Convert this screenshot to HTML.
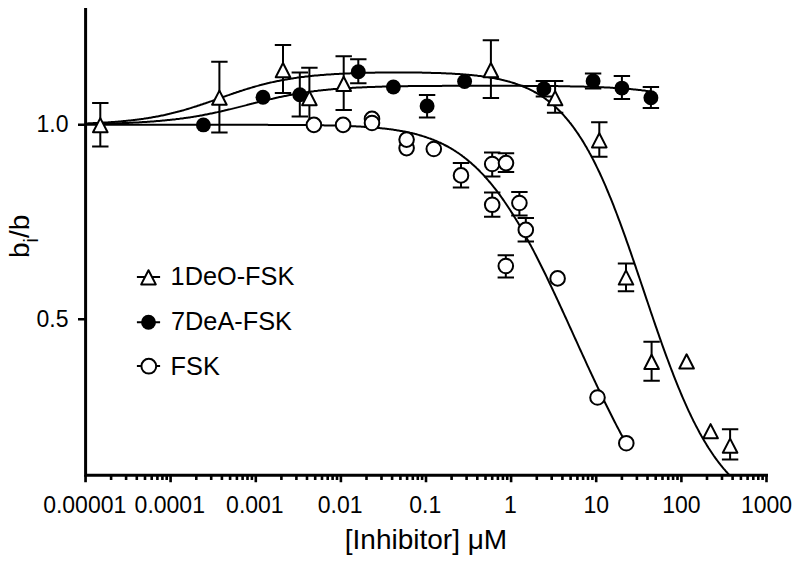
<!DOCTYPE html>
<html><head><meta charset="utf-8"><style>
html,body{margin:0;padding:0;background:#fff;}
svg{display:block;}
text{font-family:"Liberation Sans",sans-serif;fill:#000;}
.m{fill:#fff;stroke:#000;stroke-width:2;}
.f{fill:#000;stroke:none;}
</style></head><body>
<svg width="800" height="563" viewBox="0 0 800 563">
<g fill="none" stroke="#000" stroke-width="3">
<path d="M85.6,7.9 V475.2 H768"/>
<path d="M85.6,475 V482.2 M85.5,475 V482.2 M111.1,475 V480 M126.1,475 V480 M136.8,475 V480 M145.0,475 V480 M151.7,475 V480 M157.4,475 V480 M162.4,475 V480 M166.7,475 V480 M170.6,475 V482.2 M196.3,475 V480 M211.2,475 V480 M221.9,475 V480 M230.1,475 V480 M236.9,475 V480 M242.6,475 V480 M247.5,475 V480 M251.9,475 V480 M255.8,475 V482.2 M281.4,475 V480 M296.4,475 V480 M307.0,475 V480 M315.2,475 V480 M322.0,475 V480 M327.7,475 V480 M332.6,475 V480 M337.0,475 V480 M340.9,475 V482.2 M366.5,475 V480 M381.5,475 V480 M392.1,475 V480 M400.4,475 V480 M407.1,475 V480 M412.8,475 V480 M417.8,475 V480 M422.1,475 V480 M426.0,475 V482.2 M451.6,475 V480 M466.6,475 V480 M477.3,475 V480 M485.5,475 V480 M492.2,475 V480 M497.9,475 V480 M502.9,475 V480 M507.2,475 V480 M511.1,475 V482.2 M536.8,475 V480 M551.7,475 V480 M562.4,475 V480 M570.6,475 V480 M577.4,475 V480 M583.1,475 V480 M588.0,475 V480 M592.4,475 V480 M596.2,475 V482.2 M621.9,475 V480 M636.9,475 V480 M647.5,475 V480 M655.7,475 V480 M662.5,475 V480 M668.2,475 V480 M673.1,475 V480 M677.5,475 V480 M681.4,475 V482.2 M707.0,475 V480 M722.0,475 V480 M732.6,475 V480 M740.9,475 V480 M747.6,475 V480 M753.3,475 V480 M758.3,475 V480 M762.6,475 V480 M766.5,475 V482.2 " stroke-width="2.6"/>
<path d="M78,124.75 H85 M78,319.2 H85" stroke-width="2.6"/>
</g>
<g font-size="23">
<text x="68.5" y="131.85" text-anchor="end">1.0</text>
<text x="68.5" y="327" text-anchor="end">0.5</text>
<text x="84.7" y="512.5" text-anchor="middle">0.00001</text><text x="169.8" y="512.5" text-anchor="middle">0.0001</text><text x="254.9" y="512.5" text-anchor="middle">0.001</text><text x="340.1" y="512.5" text-anchor="middle">0.01</text><text x="425.2" y="512.5" text-anchor="middle">0.1</text><text x="510.3" y="512.5" text-anchor="middle">1</text><text x="596.2" y="512.5" text-anchor="middle">10</text><text x="681.4" y="512.5" text-anchor="middle">100</text><text x="766.5" y="512.5" text-anchor="middle">1000</text>
</g>
<text x="426" y="548.5" font-size="28" text-anchor="middle">[Inhibitor] μM</text>
<text transform="translate(29,258) rotate(-90)" font-size="28">b<tspan font-size="19.6" dy="8.8">i</tspan><tspan dy="-8.8">/b</tspan></text>
<g fill="none" stroke="#000" stroke-width="2">
<path d="M85.6,124.8 L86.6,124.8 L87.6,124.8 L88.6,124.8 L89.6,124.8 L90.6,124.8 L91.6,124.8 L92.6,124.8 L93.6,124.8 L94.6,124.8 L95.6,124.8 L96.6,124.8 L97.6,124.8 L98.6,124.8 L99.6,124.8 L100.6,124.8 L101.6,124.8 L102.6,124.8 L103.6,124.8 L104.6,124.8 L105.6,124.8 L106.6,124.8 L107.6,124.8 L108.6,124.8 L109.6,124.8 L110.6,124.8 L111.6,124.8 L112.6,124.8 L113.6,124.8 L114.6,124.8 L115.6,124.8 L116.6,124.8 L117.6,124.8 L118.6,124.8 L119.6,124.8 L120.6,124.8 L121.6,124.8 L122.6,124.8 L123.6,124.8 L124.6,124.8 L125.6,124.8 L126.6,124.8 L127.6,124.8 L128.6,124.8 L129.6,124.8 L130.6,124.8 L131.6,124.8 L132.6,124.8 L133.6,124.8 L134.6,124.8 L135.6,124.8 L136.6,124.8 L137.6,124.8 L138.6,124.8 L139.6,124.8 L140.6,124.8 L141.6,124.8 L142.6,124.8 L143.6,124.8 L144.6,124.8 L145.6,124.8 L146.6,124.8 L147.6,124.8 L148.6,124.8 L149.6,124.8 L150.6,124.8 L151.6,124.8 L152.6,124.8 L153.6,124.8 L154.6,124.8 L155.6,124.8 L156.6,124.8 L157.6,124.8 L158.6,124.8 L159.6,124.8 L160.6,124.8 L161.6,124.8 L162.6,124.8 L163.6,124.8 L164.6,124.8 L165.6,124.8 L166.6,124.8 L167.6,124.8 L168.6,124.8 L169.6,124.8 L170.6,124.8 L171.6,124.8 L172.6,124.8 L173.6,124.8 L174.6,124.8 L175.6,124.8 L176.6,124.8 L177.6,124.8 L178.6,124.8 L179.6,124.8 L180.6,124.8 L181.6,124.8 L182.6,124.8 L183.6,124.8 L184.6,124.8 L185.6,124.8 L186.6,124.8 L187.6,124.8 L188.6,124.8 L189.6,124.8 L190.6,124.8 L191.6,124.8 L192.6,124.8 L193.6,124.8 L194.6,124.8 L195.6,124.8 L196.6,124.8 L197.6,124.8 L198.6,124.8 L199.6,124.8 L200.6,124.8 L201.6,124.8 L202.6,124.8 L203.6,124.8 L204.6,124.8 L205.6,124.8 L206.6,124.8 L207.6,124.8 L208.6,124.8 L209.6,124.8 L210.6,124.8 L211.6,124.8 L212.6,124.8 L213.6,124.8 L214.6,124.8 L215.6,124.8 L216.6,124.8 L217.6,124.8 L218.6,124.8 L219.6,124.8 L220.6,124.8 L221.6,124.8 L222.6,124.8 L223.6,124.8 L224.6,124.8 L225.6,124.8 L226.6,124.8 L227.6,124.8 L228.6,124.8 L229.6,124.8 L230.6,124.8 L231.6,124.8 L232.6,124.8 L233.6,124.8 L234.6,124.8 L235.6,124.8 L236.6,124.8 L237.6,124.8 L238.6,124.8 L239.6,124.8 L240.6,124.8 L241.6,124.8 L242.6,124.8 L243.6,124.8 L244.6,124.8 L245.6,124.8 L246.6,124.8 L247.6,124.8 L248.6,124.8 L249.6,124.8 L250.6,124.8 L251.6,124.8 L252.6,124.8 L253.6,124.8 L254.6,124.8 L255.6,124.8 L256.6,124.8 L257.6,124.8 L258.6,124.8 L259.6,124.8 L260.6,124.8 L261.6,124.8 L262.6,124.8 L263.6,124.8 L264.6,124.8 L265.6,124.8 L266.6,124.8 L267.6,124.8 L268.6,124.9 L269.6,124.9 L270.6,124.9 L271.6,124.9 L272.6,124.9 L273.6,124.9 L274.6,124.9 L275.6,124.9 L276.6,124.9 L277.6,124.9 L278.6,124.9 L279.6,124.9 L280.6,124.9 L281.6,124.9 L282.6,124.9 L283.6,124.9 L284.6,124.9 L285.6,124.9 L286.6,124.9 L287.6,124.9 L288.6,124.9 L289.6,124.9 L290.6,125.0 L291.6,125.0 L292.6,125.0 L293.6,125.0 L294.6,125.0 L295.6,125.0 L296.6,125.0 L297.6,125.0 L298.6,125.0 L299.6,125.0 L300.6,125.0 L301.6,125.0 L302.6,125.1 L303.6,125.1 L304.6,125.1 L305.6,125.1 L306.6,125.1 L307.6,125.1 L308.6,125.1 L309.6,125.1 L310.6,125.1 L311.6,125.2 L312.6,125.2 L313.6,125.2 L314.6,125.2 L315.6,125.2 L316.6,125.2 L317.6,125.2 L318.6,125.3 L319.6,125.3 L320.6,125.3 L321.6,125.3 L322.6,125.3 L323.6,125.3 L324.6,125.4 L325.6,125.4 L326.6,125.4 L327.6,125.4 L328.6,125.4 L329.6,125.5 L330.6,125.5 L331.6,125.5 L332.6,125.5 L333.6,125.6 L334.6,125.6 L335.6,125.6 L336.6,125.6 L337.6,125.7 L338.6,125.7 L339.6,125.7 L340.6,125.8 L341.6,125.8 L342.6,125.8 L343.6,125.9 L344.6,125.9 L345.6,125.9 L346.6,126.0 L347.6,126.0 L348.6,126.0 L349.6,126.1 L350.6,126.1 L351.6,126.2 L352.6,126.2 L353.6,126.3 L354.6,126.3 L355.6,126.3 L356.6,126.4 L357.6,126.5 L358.6,126.5 L359.6,126.6 L360.6,126.6 L361.6,126.7 L362.6,126.7 L363.6,126.8 L364.6,126.9 L365.6,126.9 L366.6,127.0 L367.6,127.1 L368.6,127.1 L369.6,127.2 L370.6,127.3 L371.6,127.4 L372.6,127.4 L373.6,127.5 L374.6,127.6 L375.6,127.7 L376.6,127.8 L377.6,127.9 L378.6,128.0 L379.6,128.1 L380.6,128.2 L381.6,128.3 L382.6,128.4 L383.6,128.5 L384.6,128.6 L385.6,128.7 L386.6,128.8 L387.6,128.9 L388.6,129.1 L389.6,129.2 L390.6,129.3 L391.6,129.5 L392.6,129.6 L393.6,129.7 L394.6,129.9 L395.6,130.0 L396.6,130.2 L397.6,130.4 L398.6,130.5 L399.6,130.7 L400.6,130.9 L401.6,131.0 L402.6,131.2 L403.6,131.4 L404.6,131.6 L405.6,131.8 L406.6,132.0 L407.6,132.2 L408.6,132.4 L409.6,132.6 L410.6,132.9 L411.6,133.1 L412.6,133.3 L413.6,133.6 L414.6,133.8 L415.6,134.1 L416.6,134.3 L417.6,134.6 L418.6,134.9 L419.6,135.2 L420.6,135.5 L421.6,135.8 L422.6,136.1 L423.6,136.4 L424.6,136.7 L425.6,137.0 L426.6,137.4 L427.6,137.7 L428.6,138.1 L429.6,138.4 L430.6,138.8 L431.6,139.2 L432.6,139.5 L433.6,139.9 L434.6,140.3 L435.6,140.8 L436.6,141.2 L437.6,141.6 L438.6,142.1 L439.6,142.5 L440.6,143.0 L441.6,143.5 L442.6,143.9 L443.6,144.4 L444.6,145.0 L445.6,145.5 L446.6,146.0 L447.6,146.5 L448.6,147.1 L449.6,147.7 L450.6,148.2 L451.6,148.8 L452.6,149.4 L453.6,150.0 L454.6,150.7 L455.6,151.3 L456.6,152.0 L457.6,152.6 L458.6,153.3 L459.6,154.0 L460.6,154.7 L461.6,155.4 L462.6,156.2 L463.6,156.9 L464.6,157.7 L465.6,158.5 L466.6,159.3 L467.6,160.1 L468.6,160.9 L469.6,161.8 L470.6,162.6 L471.6,163.5 L472.6,164.4 L473.6,165.3 L474.6,166.2 L475.6,167.1 L476.6,168.1 L477.6,169.1 L478.6,170.0 L479.6,171.0 L480.6,172.1 L481.6,173.1 L482.6,174.1 L483.6,175.2 L484.6,176.3 L485.6,177.4 L486.6,178.5 L487.6,179.7 L488.6,180.8 L489.6,182.0 L490.6,183.2 L491.6,184.4 L492.6,185.6 L493.6,186.9 L494.6,188.1 L495.6,189.4 L496.6,190.7 L497.6,192.0 L498.6,193.4 L499.6,194.7 L500.6,196.1 L501.6,197.5 L502.6,198.9 L503.6,200.3 L504.6,201.8 L505.6,203.2 L506.6,204.7 L507.6,206.2 L508.6,207.7 L509.6,209.2 L510.6,210.8 L511.6,212.4 L512.6,213.9 L513.6,215.5 L514.6,217.2 L515.6,218.8 L516.6,220.4 L517.6,222.1 L518.6,223.8 L519.6,225.5 L520.6,227.2 L521.6,228.9 L522.6,230.7 L523.6,232.5 L524.6,234.2 L525.6,236.0 L526.6,237.9 L527.6,239.7 L528.6,241.5 L529.6,243.4 L530.6,245.2 L531.6,247.1 L532.6,249.0 L533.6,250.9 L534.6,252.9 L535.6,254.8 L536.6,256.8 L537.6,258.7 L538.6,260.7 L539.6,262.7 L540.6,264.7 L541.6,266.7 L542.6,268.7 L543.6,270.8 L544.6,272.8 L545.6,274.8 L546.6,276.9 L547.6,279.0 L548.6,281.1 L549.6,283.2 L550.6,285.3 L551.6,287.4 L552.6,289.5 L553.6,291.6 L554.6,293.7 L555.6,295.9 L556.6,298.0 L557.6,300.2 L558.6,302.3 L559.6,304.5 L560.6,306.7 L561.6,308.8 L562.6,311.0 L563.6,313.2 L564.6,315.4 L565.6,317.5 L566.6,319.7 L567.6,321.9 L568.6,324.1 L569.6,326.3 L570.6,328.5 L571.6,330.7 L572.6,332.9 L573.6,335.1 L574.6,337.3 L575.6,339.5 L576.6,341.7 L577.6,343.9 L578.6,346.1 L579.6,348.3 L580.6,350.5 L581.6,352.7 L582.6,354.9 L583.6,357.0 L584.6,359.2 L585.6,361.4 L586.6,363.6 L587.6,365.8 L588.6,367.9 L589.6,370.1 L590.6,372.2 L591.6,374.4 L592.6,376.5 L593.6,378.7 L594.6,380.8 L595.6,382.9 L596.6,385.0 L597.6,387.1 L598.6,389.2 L599.6,391.3 L600.6,393.4 L601.6,395.5 L602.6,397.6 L603.6,399.6 L604.6,401.7 L605.6,403.7 L606.6,405.8 L607.6,407.8 L608.6,409.8 L609.6,411.8 L610.6,413.8 L611.6,415.8 L612.6,417.8 L613.6,419.7 L614.6,421.7 L615.6,423.6 L616.6,425.6 L617.6,427.5 L618.6,429.4 L619.6,431.3 L620.6,433.2 L621.6,435.1 L622.6,436.9 L623.6,438.8 L624.6,440.6 L625.6,442.4 L626.3,443.7"/>
<path d="M85.6,124.1 L86.6,124.1 L87.6,124.0 L88.6,124.0 L89.6,124.0 L90.6,124.0 L91.6,124.0 L92.6,124.0 L93.6,123.9 L94.6,123.9 L95.6,123.9 L96.6,123.9 L97.6,123.9 L98.6,123.8 L99.6,123.8 L100.6,123.8 L101.6,123.8 L102.6,123.7 L103.6,123.7 L104.6,123.7 L105.6,123.7 L106.6,123.6 L107.6,123.6 L108.6,123.6 L109.6,123.6 L110.6,123.5 L111.6,123.5 L112.6,123.5 L113.6,123.4 L114.6,123.4 L115.6,123.4 L116.6,123.3 L117.6,123.3 L118.6,123.3 L119.6,123.2 L120.6,123.2 L121.6,123.2 L122.6,123.1 L123.6,123.1 L124.6,123.0 L125.6,123.0 L126.6,123.0 L127.6,122.9 L128.6,122.9 L129.6,122.8 L130.6,122.8 L131.6,122.7 L132.6,122.7 L133.6,122.6 L134.6,122.6 L135.6,122.5 L136.6,122.5 L137.6,122.4 L138.6,122.4 L139.6,122.3 L140.6,122.3 L141.6,122.2 L142.6,122.1 L143.6,122.1 L144.6,122.0 L145.6,122.0 L146.6,121.9 L147.6,121.8 L148.6,121.8 L149.6,121.7 L150.6,121.6 L151.6,121.5 L152.6,121.5 L153.6,121.4 L154.6,121.3 L155.6,121.2 L156.6,121.1 L157.6,121.1 L158.6,121.0 L159.6,120.9 L160.6,120.8 L161.6,120.7 L162.6,120.6 L163.6,120.5 L164.6,120.4 L165.6,120.3 L166.6,120.2 L167.6,120.1 L168.6,120.0 L169.6,119.9 L170.6,119.8 L171.6,119.7 L172.6,119.6 L173.6,119.5 L174.6,119.4 L175.6,119.3 L176.6,119.1 L177.6,119.0 L178.6,118.9 L179.6,118.8 L180.6,118.6 L181.6,118.5 L182.6,118.4 L183.6,118.2 L184.6,118.1 L185.6,118.0 L186.6,117.8 L187.6,117.7 L188.6,117.5 L189.6,117.4 L190.6,117.2 L191.6,117.1 L192.6,116.9 L193.6,116.7 L194.6,116.6 L195.6,116.4 L196.6,116.2 L197.6,116.1 L198.6,115.9 L199.6,115.7 L200.6,115.5 L201.6,115.4 L202.6,115.2 L203.6,115.0 L204.6,114.8 L205.6,114.6 L206.6,114.4 L207.6,114.2 L208.6,114.0 L209.6,113.8 L210.6,113.6 L211.6,113.4 L212.6,113.2 L213.6,113.0 L214.6,112.8 L215.6,112.6 L216.6,112.4 L217.6,112.1 L218.6,111.9 L219.6,111.7 L220.6,111.5 L221.6,111.2 L222.6,111.0 L223.6,110.8 L224.6,110.5 L225.6,110.3 L226.6,110.1 L227.6,109.8 L228.6,109.6 L229.6,109.4 L230.6,109.1 L231.6,108.9 L232.6,108.6 L233.6,108.4 L234.6,108.1 L235.6,107.9 L236.6,107.6 L237.6,107.4 L238.6,107.1 L239.6,106.9 L240.6,106.6 L241.6,106.4 L242.6,106.1 L243.6,105.9 L244.6,105.6 L245.6,105.4 L246.6,105.1 L247.6,104.8 L248.6,104.6 L249.6,104.3 L250.6,104.1 L251.6,103.8 L252.6,103.6 L253.6,103.3 L254.6,103.1 L255.6,102.8 L256.6,102.6 L257.6,102.3 L258.6,102.0 L259.6,101.8 L260.6,101.6 L261.6,101.3 L262.6,101.1 L263.6,100.8 L264.6,100.6 L265.6,100.3 L266.6,100.1 L267.6,99.8 L268.6,99.6 L269.6,99.4 L270.6,99.1 L271.6,98.9 L272.6,98.7 L273.6,98.4 L274.6,98.2 L275.6,98.0 L276.6,97.8 L277.6,97.6 L278.6,97.3 L279.6,97.1 L280.6,96.9 L281.6,96.7 L282.6,96.5 L283.6,96.3 L284.6,96.1 L285.6,95.9 L286.6,95.7 L287.6,95.5 L288.6,95.3 L289.6,95.1 L290.6,94.9 L291.6,94.7 L292.6,94.5 L293.6,94.3 L294.6,94.2 L295.6,94.0 L296.6,93.8 L297.6,93.6 L298.6,93.5 L299.6,93.3 L300.6,93.2 L301.6,93.0 L302.6,92.8 L303.6,92.7 L304.6,92.5 L305.6,92.4 L306.6,92.2 L307.6,92.1 L308.6,91.9 L309.6,91.8 L310.6,91.7 L311.6,91.5 L312.6,91.4 L313.6,91.3 L314.6,91.1 L315.6,91.0 L316.6,90.9 L317.6,90.8 L318.6,90.6 L319.6,90.5 L320.6,90.4 L321.6,90.3 L322.6,90.2 L323.6,90.1 L324.6,90.0 L325.6,89.9 L326.6,89.8 L327.6,89.7 L328.6,89.6 L329.6,89.5 L330.6,89.4 L331.6,89.3 L332.6,89.2 L333.6,89.1 L334.6,89.1 L335.6,89.0 L336.6,88.9 L337.6,88.8 L338.6,88.7 L339.6,88.7 L340.6,88.6 L341.6,88.5 L342.6,88.4 L343.6,88.4 L344.6,88.3 L345.6,88.2 L346.6,88.2 L347.6,88.1 L348.6,88.0 L349.6,88.0 L350.6,87.9 L351.6,87.9 L352.6,87.8 L353.6,87.8 L354.6,87.7 L355.6,87.7 L356.6,87.6 L357.6,87.6 L358.6,87.5 L359.6,87.5 L360.6,87.4 L361.6,87.4 L362.6,87.3 L363.6,87.3 L364.6,87.2 L365.6,87.2 L366.6,87.2 L367.6,87.1 L368.6,87.1 L369.6,87.0 L370.6,87.0 L371.6,87.0 L372.6,86.9 L373.6,86.9 L374.6,86.9 L375.6,86.8 L376.6,86.8 L377.6,86.8 L378.6,86.7 L379.6,86.7 L380.6,86.7 L381.6,86.7 L382.6,86.6 L383.6,86.6 L384.6,86.6 L385.6,86.6 L386.6,86.5 L387.6,86.5 L388.6,86.5 L389.6,86.5 L390.6,86.4 L391.6,86.4 L392.6,86.4 L393.6,86.4 L394.6,86.4 L395.6,86.3 L396.6,86.3 L397.6,86.3 L398.6,86.3 L399.6,86.3 L400.6,86.3 L401.6,86.2 L402.6,86.2 L403.6,86.2 L404.6,86.2 L405.6,86.2 L406.6,86.2 L407.6,86.2 L408.6,86.1 L409.6,86.1 L410.6,86.1 L411.6,86.1 L412.6,86.1 L413.6,86.1 L414.6,86.1 L415.6,86.1 L416.6,86.0 L417.6,86.0 L418.6,86.0 L419.6,86.0 L420.6,86.0 L421.6,86.0 L422.6,86.0 L423.6,86.0 L424.6,86.0 L425.6,86.0 L426.6,86.0 L427.6,85.9 L428.6,85.9 L429.6,85.9 L430.6,85.9 L431.6,85.9 L432.6,85.9 L433.6,85.9 L434.6,85.9 L435.6,85.9 L436.6,85.9 L437.6,85.9 L438.6,85.9 L439.6,85.9 L440.6,85.9 L441.6,85.9 L442.6,85.8 L443.6,85.8 L444.6,85.8 L445.6,85.8 L446.6,85.8 L447.6,85.8 L448.6,85.8 L449.6,85.8 L450.6,85.8 L451.6,85.8 L452.6,85.8 L453.6,85.8 L454.6,85.8 L455.6,85.8 L456.6,85.8 L457.6,85.8 L458.6,85.8 L459.6,85.8 L460.6,85.8 L461.6,85.8 L462.6,85.8 L463.6,85.8 L464.6,85.8 L465.6,85.8 L466.6,85.8 L467.6,85.8 L468.6,85.8 L469.6,85.8 L470.6,85.8 L471.6,85.8 L472.6,85.8 L473.6,85.8 L474.6,85.8 L475.6,85.8 L476.6,85.8 L477.6,85.8 L478.6,85.8 L479.6,85.8 L480.6,85.8 L481.6,85.8 L482.6,85.8 L483.6,85.8 L484.6,85.8 L485.6,85.8 L486.6,85.8 L487.6,85.8 L488.6,85.8 L489.6,85.8 L490.6,85.8 L491.6,85.8 L492.6,85.8 L493.6,85.8 L494.6,85.8 L495.6,85.8 L496.6,85.8 L497.6,85.8 L498.6,85.8 L499.6,85.8 L500.6,85.8 L501.6,85.8 L502.6,85.8 L503.6,85.8 L504.6,85.8 L505.6,85.8 L506.6,85.8 L507.6,85.8 L508.6,85.8 L509.6,85.8 L510.6,85.8 L511.6,85.8 L512.6,85.8 L513.6,85.8 L514.6,85.8 L515.6,85.8 L516.6,85.8 L517.6,85.8 L518.6,85.8 L519.6,85.8 L520.6,85.8 L521.6,85.8 L522.6,85.8 L523.6,85.9 L524.6,85.9 L525.6,85.9 L526.6,85.9 L527.6,85.9 L528.6,85.9 L529.6,85.9 L530.6,85.9 L531.6,85.9 L532.6,85.9 L533.6,85.9 L534.6,85.9 L535.6,85.9 L536.6,85.9 L537.6,85.9 L538.6,85.9 L539.6,86.0 L540.6,86.0 L541.6,86.0 L542.6,86.0 L543.6,86.0 L544.6,86.0 L545.6,86.0 L546.6,86.0 L547.6,86.0 L548.6,86.0 L549.6,86.0 L550.6,86.1 L551.6,86.1 L552.6,86.1 L553.6,86.1 L554.6,86.1 L555.6,86.1 L556.6,86.1 L557.6,86.1 L558.6,86.2 L559.6,86.2 L560.6,86.2 L561.6,86.2 L562.6,86.2 L563.6,86.2 L564.6,86.2 L565.6,86.3 L566.6,86.3 L567.6,86.3 L568.6,86.3 L569.6,86.3 L570.6,86.4 L571.6,86.4 L572.6,86.4 L573.6,86.4 L574.6,86.4 L575.6,86.5 L576.6,86.5 L577.6,86.5 L578.6,86.5 L579.6,86.5 L580.6,86.6 L581.6,86.6 L582.6,86.6 L583.6,86.6 L584.6,86.7 L585.6,86.7 L586.6,86.7 L587.6,86.8 L588.6,86.8 L589.6,86.8 L590.6,86.8 L591.6,86.9 L592.6,86.9 L593.6,86.9 L594.6,87.0 L595.6,87.0 L596.6,87.1 L597.6,87.1 L598.6,87.1 L599.6,87.2 L600.6,87.2 L601.6,87.3 L602.6,87.3 L603.6,87.3 L604.6,87.4 L605.6,87.4 L606.6,87.5 L607.6,87.5 L608.6,87.6 L609.6,87.6 L610.6,87.7 L611.6,87.7 L612.6,87.8 L613.6,87.9 L614.6,87.9 L615.6,88.0 L616.6,88.0 L617.6,88.1 L618.6,88.2 L619.6,88.2 L620.6,88.3 L621.6,88.4 L622.6,88.4 L623.6,88.5 L624.6,88.6 L625.6,88.7 L626.6,88.8 L627.6,88.8 L628.6,88.9 L629.6,89.0 L630.6,89.1 L631.6,89.2 L632.6,89.3 L633.6,89.4 L634.6,89.5 L635.6,89.6 L636.6,89.7 L637.6,89.8 L638.6,89.9 L639.6,90.0 L640.6,90.1 L641.6,90.3 L642.6,90.4 L643.6,90.5 L644.6,90.6 L645.6,90.8 L646.6,90.9 L647.6,91.1 L648.6,91.2 L649.6,91.3 L650.6,91.5 L651.0,91.6"/>
<path d="M85.6,123.4 L86.6,123.4 L87.6,123.4 L88.6,123.3 L89.6,123.3 L90.6,123.2 L91.6,123.2 L92.6,123.2 L93.6,123.1 L94.6,123.1 L95.6,123.0 L96.6,123.0 L97.6,122.9 L98.6,122.9 L99.6,122.8 L100.6,122.8 L101.6,122.7 L102.6,122.7 L103.6,122.6 L104.6,122.6 L105.6,122.5 L106.6,122.4 L107.6,122.4 L108.6,122.3 L109.6,122.2 L110.6,122.2 L111.6,122.1 L112.6,122.0 L113.6,122.0 L114.6,121.9 L115.6,121.8 L116.6,121.7 L117.6,121.7 L118.6,121.6 L119.6,121.5 L120.6,121.4 L121.6,121.3 L122.6,121.2 L123.6,121.1 L124.6,121.0 L125.6,120.9 L126.6,120.8 L127.6,120.7 L128.6,120.6 L129.6,120.5 L130.6,120.4 L131.6,120.3 L132.6,120.2 L133.6,120.1 L134.6,120.0 L135.6,119.8 L136.6,119.7 L137.6,119.6 L138.6,119.5 L139.6,119.3 L140.6,119.2 L141.6,119.0 L142.6,118.9 L143.6,118.8 L144.6,118.6 L145.6,118.5 L146.6,118.3 L147.6,118.2 L148.6,118.0 L149.6,117.8 L150.6,117.7 L151.6,117.5 L152.6,117.3 L153.6,117.1 L154.6,117.0 L155.6,116.8 L156.6,116.6 L157.6,116.4 L158.6,116.2 L159.6,116.0 L160.6,115.8 L161.6,115.6 L162.6,115.4 L163.6,115.2 L164.6,115.0 L165.6,114.7 L166.6,114.5 L167.6,114.3 L168.6,114.1 L169.6,113.8 L170.6,113.6 L171.6,113.3 L172.6,113.1 L173.6,112.8 L174.6,112.6 L175.6,112.3 L176.6,112.1 L177.6,111.8 L178.6,111.5 L179.6,111.3 L180.6,111.0 L181.6,110.7 L182.6,110.4 L183.6,110.2 L184.6,109.9 L185.6,109.6 L186.6,109.3 L187.6,109.0 L188.6,108.7 L189.6,108.4 L190.6,108.1 L191.6,107.8 L192.6,107.4 L193.6,107.1 L194.6,106.8 L195.6,106.5 L196.6,106.2 L197.6,105.8 L198.6,105.5 L199.6,105.2 L200.6,104.8 L201.6,104.5 L202.6,104.2 L203.6,103.8 L204.6,103.5 L205.6,103.2 L206.6,102.8 L207.6,102.5 L208.6,102.1 L209.6,101.8 L210.6,101.4 L211.6,101.1 L212.6,100.7 L213.6,100.4 L214.6,100.0 L215.6,99.7 L216.6,99.3 L217.6,98.9 L218.6,98.6 L219.6,98.2 L220.6,97.9 L221.6,97.5 L222.6,97.2 L223.6,96.8 L224.6,96.5 L225.6,96.1 L226.6,95.8 L227.6,95.4 L228.6,95.1 L229.6,94.7 L230.6,94.4 L231.6,94.0 L232.6,93.7 L233.6,93.3 L234.6,93.0 L235.6,92.7 L236.6,92.3 L237.6,92.0 L238.6,91.7 L239.6,91.3 L240.6,91.0 L241.6,90.7 L242.6,90.4 L243.6,90.0 L244.6,89.7 L245.6,89.4 L246.6,89.1 L247.6,88.8 L248.6,88.5 L249.6,88.2 L250.6,87.9 L251.6,87.6 L252.6,87.3 L253.6,87.0 L254.6,86.7 L255.6,86.4 L256.6,86.1 L257.6,85.9 L258.6,85.6 L259.6,85.3 L260.6,85.1 L261.6,84.8 L262.6,84.5 L263.6,84.3 L264.6,84.0 L265.6,83.8 L266.6,83.5 L267.6,83.3 L268.6,83.1 L269.6,82.8 L270.6,82.6 L271.6,82.4 L272.6,82.1 L273.6,81.9 L274.6,81.7 L275.6,81.5 L276.6,81.3 L277.6,81.1 L278.6,80.9 L279.6,80.7 L280.6,80.5 L281.6,80.3 L282.6,80.1 L283.6,79.9 L284.6,79.7 L285.6,79.5 L286.6,79.4 L287.6,79.2 L288.6,79.0 L289.6,78.9 L290.6,78.7 L291.6,78.5 L292.6,78.4 L293.6,78.2 L294.6,78.1 L295.6,77.9 L296.6,77.8 L297.6,77.6 L298.6,77.5 L299.6,77.4 L300.6,77.2 L301.6,77.1 L302.6,77.0 L303.6,76.9 L304.6,76.7 L305.6,76.6 L306.6,76.5 L307.6,76.4 L308.6,76.3 L309.6,76.2 L310.6,76.1 L311.6,76.0 L312.6,75.8 L313.6,75.7 L314.6,75.6 L315.6,75.6 L316.6,75.5 L317.6,75.4 L318.6,75.3 L319.6,75.2 L320.6,75.1 L321.6,75.0 L322.6,74.9 L323.6,74.9 L324.6,74.8 L325.6,74.7 L326.6,74.6 L327.6,74.6 L328.6,74.5 L329.6,74.4 L330.6,74.4 L331.6,74.3 L332.6,74.2 L333.6,74.2 L334.6,74.1 L335.6,74.0 L336.6,74.0 L337.6,73.9 L338.6,73.9 L339.6,73.8 L340.6,73.8 L341.6,73.7 L342.6,73.7 L343.6,73.6 L344.6,73.6 L345.6,73.5 L346.6,73.5 L347.6,73.4 L348.6,73.4 L349.6,73.4 L350.6,73.3 L351.6,73.3 L352.6,73.2 L353.6,73.2 L354.6,73.2 L355.6,73.1 L356.6,73.1 L357.6,73.1 L358.6,73.0 L359.6,73.0 L360.6,73.0 L361.6,73.0 L362.6,72.9 L363.6,72.9 L364.6,72.9 L365.6,72.8 L366.6,72.8 L367.6,72.8 L368.6,72.8 L369.6,72.8 L370.6,72.7 L371.6,72.7 L372.6,72.7 L373.6,72.7 L374.6,72.7 L375.6,72.6 L376.6,72.6 L377.6,72.6 L378.6,72.6 L379.6,72.6 L380.6,72.6 L381.6,72.6 L382.6,72.6 L383.6,72.5 L384.6,72.5 L385.6,72.5 L386.6,72.5 L387.6,72.5 L388.6,72.5 L389.6,72.5 L390.6,72.5 L391.6,72.5 L392.6,72.5 L393.6,72.5 L394.6,72.5 L395.6,72.5 L396.6,72.5 L397.6,72.5 L398.6,72.5 L399.6,72.5 L400.6,72.5 L401.6,72.5 L402.6,72.5 L403.6,72.5 L404.6,72.5 L405.6,72.5 L406.6,72.5 L407.6,72.5 L408.6,72.5 L409.6,72.5 L410.6,72.5 L411.6,72.5 L412.6,72.5 L413.6,72.5 L414.6,72.5 L415.6,72.6 L416.6,72.6 L417.6,72.6 L418.6,72.6 L419.6,72.6 L420.6,72.6 L421.6,72.6 L422.6,72.7 L423.6,72.7 L424.6,72.7 L425.6,72.7 L426.6,72.7 L427.6,72.8 L428.6,72.8 L429.6,72.8 L430.6,72.8 L431.6,72.9 L432.6,72.9 L433.6,72.9 L434.6,72.9 L435.6,73.0 L436.6,73.0 L437.6,73.0 L438.6,73.1 L439.6,73.1 L440.6,73.1 L441.6,73.2 L442.6,73.2 L443.6,73.3 L444.6,73.3 L445.6,73.3 L446.6,73.4 L447.6,73.4 L448.6,73.5 L449.6,73.5 L450.6,73.6 L451.6,73.6 L452.6,73.7 L453.6,73.7 L454.6,73.8 L455.6,73.9 L456.6,73.9 L457.6,74.0 L458.6,74.1 L459.6,74.1 L460.6,74.2 L461.6,74.3 L462.6,74.3 L463.6,74.4 L464.6,74.5 L465.6,74.6 L466.6,74.7 L467.6,74.7 L468.6,74.8 L469.6,74.9 L470.6,75.0 L471.6,75.1 L472.6,75.2 L473.6,75.3 L474.6,75.4 L475.6,75.5 L476.6,75.6 L477.6,75.8 L478.6,75.9 L479.6,76.0 L480.6,76.1 L481.6,76.2 L482.6,76.4 L483.6,76.5 L484.6,76.7 L485.6,76.8 L486.6,77.0 L487.6,77.1 L488.6,77.3 L489.6,77.4 L490.6,77.6 L491.6,77.8 L492.6,77.9 L493.6,78.1 L494.6,78.3 L495.6,78.5 L496.6,78.7 L497.6,78.9 L498.6,79.1 L499.6,79.3 L500.6,79.5 L501.6,79.8 L502.6,80.0 L503.6,80.2 L504.6,80.5 L505.6,80.7 L506.6,81.0 L507.6,81.3 L508.6,81.5 L509.6,81.8 L510.6,82.1 L511.6,82.4 L512.6,82.7 L513.6,83.0 L514.6,83.3 L515.6,83.7 L516.6,84.0 L517.6,84.4 L518.6,84.7 L519.6,85.1 L520.6,85.5 L521.6,85.9 L522.6,86.3 L523.6,86.7 L524.6,87.1 L525.6,87.5 L526.6,88.0 L527.6,88.4 L528.6,88.9 L529.6,89.4 L530.6,89.9 L531.6,90.4 L532.6,90.9 L533.6,91.4 L534.6,92.0 L535.6,92.5 L536.6,93.1 L537.6,93.7 L538.6,94.3 L539.6,94.9 L540.6,95.5 L541.6,96.2 L542.6,96.8 L543.6,97.5 L544.6,98.2 L545.6,98.9 L546.6,99.7 L547.6,100.4 L548.6,101.2 L549.6,102.0 L550.6,102.8 L551.6,103.6 L552.6,104.5 L553.6,105.3 L554.6,106.2 L555.6,107.1 L556.6,108.1 L557.6,109.0 L558.6,110.0 L559.6,111.0 L560.6,112.0 L561.6,113.0 L562.6,114.1 L563.6,115.2 L564.6,116.3 L565.6,117.5 L566.6,118.6 L567.6,119.8 L568.6,121.0 L569.6,122.3 L570.6,123.5 L571.6,124.8 L572.6,126.1 L573.6,127.5 L574.6,128.9 L575.6,130.3 L576.6,131.7 L577.6,133.2 L578.6,134.6 L579.6,136.2 L580.6,137.7 L581.6,139.3 L582.6,140.9 L583.6,142.5 L584.6,144.2 L585.6,145.9 L586.6,147.6 L587.6,149.4 L588.6,151.1 L589.6,153.0 L590.6,154.8 L591.6,156.7 L592.6,158.6 L593.6,160.5 L594.6,162.5 L595.6,164.5 L596.6,166.6 L597.6,168.6 L598.6,170.7 L599.6,172.8 L600.6,175.0 L601.6,177.2 L602.6,179.4 L603.6,181.7 L604.6,183.9 L605.6,186.2 L606.6,188.6 L607.6,191.0 L608.6,193.3 L609.6,195.8 L610.6,198.2 L611.6,200.7 L612.6,203.2 L613.6,205.7 L614.6,208.3 L615.6,210.9 L616.6,213.5 L617.6,216.1 L618.6,218.8 L619.6,221.4 L620.6,224.1 L621.6,226.9 L622.6,229.6 L623.6,232.4 L624.6,235.1 L625.6,237.9 L626.6,240.8 L627.6,243.6 L628.6,246.4 L629.6,249.3 L630.6,252.2 L631.6,255.1 L632.6,258.0 L633.6,260.9 L634.6,263.8 L635.6,266.7 L636.6,269.7 L637.6,272.6 L638.6,275.6 L639.6,278.5 L640.6,281.5 L641.6,284.5 L642.6,287.4 L643.6,290.4 L644.6,293.4 L645.6,296.4 L646.6,299.3 L647.6,302.3 L648.6,305.3 L649.6,308.2 L650.6,311.2 L651.6,314.1 L652.6,317.0 L653.6,320.0 L654.6,322.9 L655.6,325.8 L656.6,328.7 L657.6,331.6 L658.6,334.4 L659.6,337.3 L660.6,340.1 L661.6,343.0 L662.6,345.8 L663.6,348.6 L664.6,351.3 L665.6,354.1 L666.6,356.8 L667.6,359.5 L668.6,362.2 L669.6,364.9 L670.6,367.5 L671.6,370.1 L672.6,372.7 L673.6,375.3 L674.6,377.9 L675.6,380.4 L676.6,382.9 L677.6,385.4 L678.6,387.8 L679.6,390.2 L680.6,392.6 L681.6,395.0 L682.6,397.3 L683.6,399.6 L684.6,401.9 L685.6,404.2 L686.6,406.4 L687.6,408.6 L688.6,410.8 L689.6,412.9 L690.6,415.0 L691.6,417.1 L692.6,419.1 L693.6,421.2 L694.6,423.1 L695.6,425.1 L696.6,427.0 L697.6,428.9 L698.6,430.8 L699.6,432.7 L700.6,434.5 L701.6,436.3 L702.6,438.0 L703.6,439.7 L704.6,441.4 L705.6,443.1 L706.6,444.7 L707.6,446.4 L708.6,448.0 L709.6,449.5 L710.6,451.0 L711.6,452.5 L712.6,454.0 L713.6,455.5 L714.6,456.9 L715.6,458.3 L716.6,459.7 L717.6,461.0 L718.6,462.3 L719.6,463.6 L720.6,464.9 L721.6,466.1 L722.6,467.4 L723.6,468.6 L724.6,469.7 L725.6,470.9 L726.6,472.0 L727.6,473.1 L728.6,474.2 L729.6,475.3 L729.8,475.5"/>
<path d="M100.3,103.1 V146.5 M92.1,103.1 H108.5 M92.1,146.5 H108.5"/><path d="M219.4,61.7 V132.4 M211.2,61.7 H227.6 M211.2,132.4 H227.6"/><path d="M283.0,45.1 V93.1 M274.8,45.1 H291.2 M274.8,93.1 H291.2"/><path d="M309.4,67.8 V121.0 M301.2,67.8 H317.6"/><path d="M343.7,56.3 V110.0 M335.5,56.3 H351.9 M335.5,110.0 H351.9"/><path d="M490.9,40.3 V98.0 M482.7,40.3 H499.1 M482.7,98.0 H499.1"/><path d="M555.1,80.9 V112.8 M546.9,80.9 H563.3 M546.9,112.8 H563.3"/><path d="M599.3,122.2 V156.8 M591.1,122.2 H607.5 M591.1,156.8 H607.5"/><path d="M626.0,263.4 V291.3 M617.8,263.4 H634.2 M617.8,291.3 H634.2"/><path d="M651.6,341.7 V380.7 M643.4,341.7 H659.8 M643.4,380.7 H659.8"/><path d="M730.1,429.3 V459.5 M721.9,429.3 H738.3 M721.9,459.5 H738.3"/><path d="M299.8,72.6 V116.5 M291.6,72.6 H308.0 M291.6,116.5 H308.0"/><path d="M358.3,59.3 V83.3 M350.1,59.3 H366.5 M350.1,83.3 H366.5"/><path d="M427.1,94.9 V117.5 M418.9,94.9 H435.3 M418.9,117.5 H435.3"/><path d="M543.9,80.9 V96.4 M535.7,80.9 H552.1 M535.7,96.4 H552.1"/><path d="M593.1,73.5 V88.5 M584.9,73.5 H601.3 M584.9,88.5 H601.3"/><path d="M621.9,75.9 V99.0 M613.7,75.9 H630.1 M613.7,99.0 H630.1"/><path d="M650.9,87.1 V108.1 M642.7,87.1 H659.1 M642.7,108.1 H659.1"/><path d="M461.0,163.0 V187.5 M452.8,163.0 H469.2 M452.8,187.5 H469.2"/><path d="M492.2,152.4 V176.4 M484.0,152.4 H500.4 M484.0,176.4 H500.4"/><path d="M506.0,153.3 V172.0 M497.8,153.3 H514.2 M497.8,172.0 H514.2"/><path d="M492.2,192.4 V216.7 M484.0,192.4 H500.4 M484.0,216.7 H500.4"/><path d="M519.4,191.9 V215.5 M511.2,191.9 H527.6 M511.2,215.5 H527.6"/><path d="M525.8,218.0 V241.6 M517.6,218.0 H534.0 M517.6,241.6 H534.0"/><path d="M505.8,255.3 V277.5 M497.6,255.3 H514.0 M497.6,277.5 H514.0"/>
</g>
<circle class="m" cx="313.9" cy="124.9" r="7.3"/><circle class="m" cx="343.1" cy="124.9" r="7.3"/><circle class="m" cx="372.0" cy="118.9" r="7.3"/><circle class="m" cx="372.0" cy="123.0" r="7.3"/><circle class="m" cx="406.6" cy="148.1" r="7.3"/><circle class="m" cx="406.6" cy="139.6" r="7.3"/><circle class="m" cx="433.8" cy="149.0" r="7.3"/><circle class="m" cx="461.0" cy="175.4" r="7.3"/><circle class="m" cx="492.2" cy="164.0" r="7.3"/><circle class="m" cx="506.0" cy="163.1" r="7.3"/><circle class="m" cx="492.2" cy="204.8" r="7.3"/><circle class="m" cx="519.4" cy="203.0" r="7.3"/><circle class="m" cx="525.8" cy="229.9" r="7.3"/><circle class="m" cx="505.8" cy="266.0" r="7.3"/><circle class="m" cx="557.6" cy="278.4" r="7.3"/><circle class="m" cx="597.5" cy="397.5" r="7.3"/><circle class="m" cx="626.3" cy="443.2" r="7.3"/><circle class="f" cx="203.4" cy="124.9" r="7.45"/><circle class="f" cx="263.0" cy="97.2" r="7.45"/><circle class="f" cx="299.8" cy="94.8" r="7.45"/><circle class="f" cx="358.3" cy="71.7" r="7.45"/><circle class="f" cx="393.4" cy="87.0" r="7.45"/><circle class="f" cx="427.1" cy="106.0" r="7.45"/><circle class="f" cx="464.6" cy="81.5" r="7.45"/><circle class="f" cx="543.9" cy="88.8" r="7.45"/><circle class="f" cx="593.1" cy="81.0" r="7.45"/><circle class="f" cx="621.9" cy="88.1" r="7.45"/><circle class="f" cx="650.9" cy="97.8" r="7.45"/><path class="m" stroke-linejoin="round" d="M100.3,118.1 L107.6,132.3 L93.0,132.3 Z"/><path class="m" stroke-linejoin="round" d="M219.4,90.6 L226.7,104.8 L212.1,104.8 Z"/><path class="m" stroke-linejoin="round" d="M283.0,63.0 L290.3,77.2 L275.7,77.2 Z"/><path class="m" stroke-linejoin="round" d="M309.4,91.1 L316.7,105.2 L302.1,105.2 Z"/><path class="m" stroke-linejoin="round" d="M343.7,76.8 L351.0,91.0 L336.4,91.0 Z"/><path class="m" stroke-linejoin="round" d="M490.9,63.0 L498.2,77.2 L483.6,77.2 Z"/><path class="m" stroke-linejoin="round" d="M555.1,91.1 L562.4,105.3 L547.8,105.3 Z"/><path class="m" stroke-linejoin="round" d="M599.3,133.2 L606.6,147.4 L592.0,147.4 Z"/><path class="m" stroke-linejoin="round" d="M626.0,270.4 L633.3,284.6 L618.7,284.6 Z"/><path class="m" stroke-linejoin="round" d="M651.6,354.8 L658.9,369.0 L644.3,369.0 Z"/><path class="m" stroke-linejoin="round" d="M686.6,354.3 L693.9,368.5 L679.3,368.5 Z"/><path class="m" stroke-linejoin="round" d="M710.6,424.1 L717.9,438.3 L703.3,438.3 Z"/><path class="m" stroke-linejoin="round" d="M730.1,438.6 L737.4,452.8 L722.8,452.8 Z"/>
<g stroke="#000" stroke-width="2"><path d="M136.9,276.9 H160.1 M136.9,322.3 H160.1 M136.9,366.1 H160.1"/></g>
<path class="m" stroke-linejoin="round" d="M148.5,270.2 L155.8,284.4 L141.2,284.4 Z"/>
<circle class="f" cx="148.5" cy="322.3" r="7.45"/>
<circle class="m" cx="148.8" cy="366.2" r="7.4"/>
<g font-size="25.3">
<text x="170.6" y="285.3">1DeO-FSK</text>
<text x="171" y="330">7DeA-FSK</text>
<text x="170.6" y="374.6">FSK</text>
</g>
</svg>
</body></html>
